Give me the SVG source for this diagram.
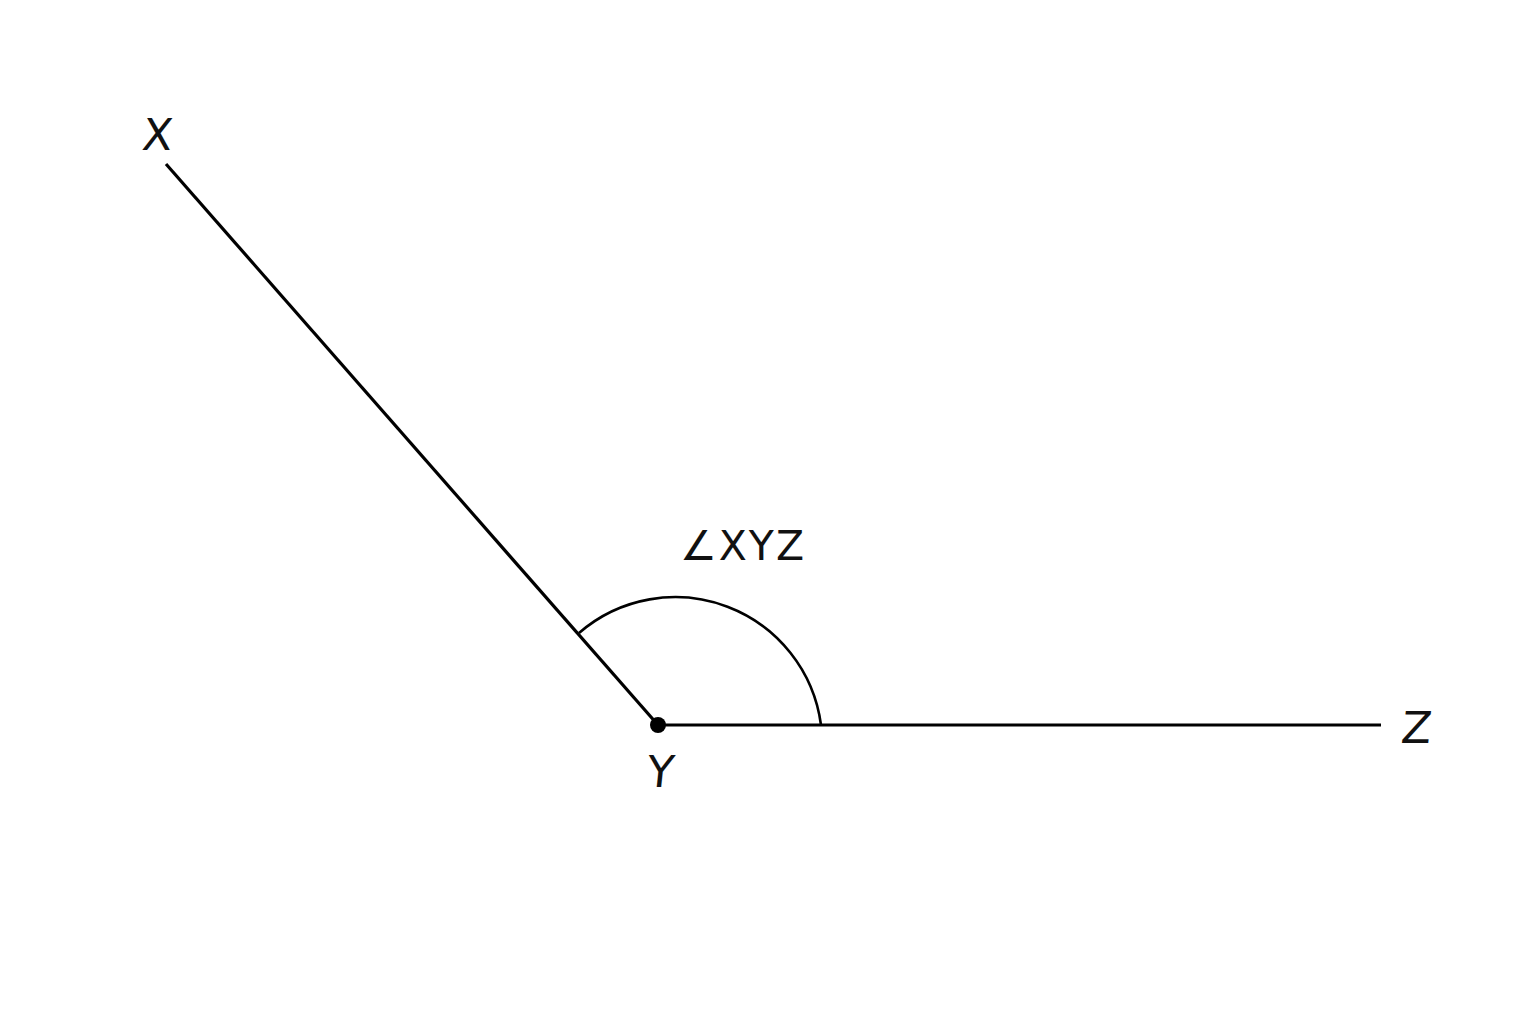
<svg xmlns="http://www.w3.org/2000/svg" width="1536" height="1024" viewBox="0 0 1536 1024">
  <style>
    .ray { stroke: #000; stroke-width: 3.2; fill: none; stroke-linecap: butt; }
    .arc { stroke: #000; stroke-width: 2.6; fill: none; }
    .lbl { font-family: "DejaVu Sans", "Liberation Sans", sans-serif; font-size: 44px; fill: #111; text-anchor: middle; }
  </style>
  <rect width="1536" height="1024" fill="#ffffff"/>
  <g id="connectors">
    <line class="ray" x1="166" y1="164" x2="658" y2="725"/>
    <line class="ray" x1="658" y1="725" x2="1381" y2="725"/>
    <path class="arc" d="M 579 633 A 147 147 0 0 1 821 725"/>
  </g>
  <g id="node-Y">
    <circle cx="658" cy="725" r="8" fill="#000"/>
    <text class="lbl" transform="translate(659 787) skewX(-6)" x="0" y="0">Y</text>
  </g>
  <g id="node-X">
    <text class="lbl" transform="translate(156 150) skewX(-6)" x="0" y="0">X</text>
  </g>
  <g id="node-Z">
    <text class="lbl" transform="translate(1415 743) skewX(-6)" x="0" y="0">Z</text>
  </g>
  <g id="angle-label">
    <text class="lbl" x="743" y="560" style="font-size:41px; letter-spacing:2px">∠XYZ</text>
  </g>
</svg>
